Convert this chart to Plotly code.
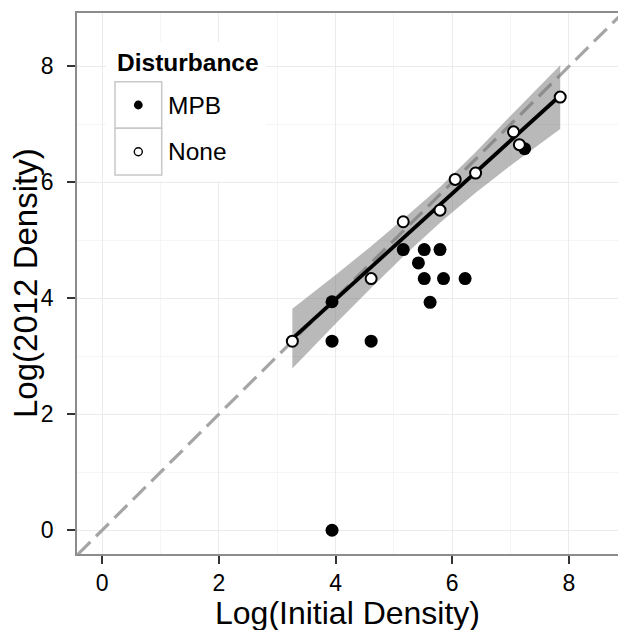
import numpy as np
import plotly.graph_objects as go

# ---- data (log scale values) ----
mpb_x = [3.94, 3.94, 4.61, 5.16, 5.52, 5.79, 5.42, 5.52, 5.85, 6.22, 5.62, 3.94, 7.24]
mpb_y = [3.94, 3.26, 3.26, 4.84, 4.84, 4.84, 4.61, 4.34, 4.34, 4.34, 3.93, 0.00, 6.58]

none_x = [3.26, 4.61, 5.16, 5.79, 6.05, 6.40, 7.05, 7.15, 7.85]
none_y = [3.26, 4.34, 5.32, 5.52, 6.05, 6.16, 6.87, 6.65, 7.47]

# confidence band of the fitted line
ribbon_x = [3.26, 4.00, 4.60, 5.20, 5.80, 6.40, 7.00, 7.85]
ribbon_hi = [3.82, 4.40, 4.89, 5.40, 5.93, 6.52, 7.15, 8.02]
ribbon_lo = [2.79, 3.56, 4.17, 4.76, 5.31, 5.82, 6.29, 6.92]

# 1:1 reference line
abline_intercept = 0.0
abline_slope = 1.0

x_ticks = [0, 2, 4, 6, 8]
y_ticks = [0, 2, 4, 6, 8]
x_title = "Log(Initial Density)"
y_title = "Log(2012 Density)"
legend_title = "Disturbance"
groups = ["MPB", "None"]

FONT = "Liberation Sans, Arial, sans-serif"

# ---- derived ----
nx = np.array(none_x)
ny = np.array(none_y)
slope, intercept = np.polyfit(nx, ny, 1)
fit_x = np.array([nx.min(), nx.max()])
fit_y = intercept + slope * fit_x

ab_x = np.array([-2.0, 12.0])
ab_y = abline_intercept + abline_slope * ab_x

fig = go.Figure()

fig.add_trace(go.Scatter(
    x=ab_x, y=ab_y, mode="lines",
    line=dict(color="rgb(165,165,165)", width=3.2, dash="18px,8px"),
    hoverinfo="skip", showlegend=False))

fig.add_trace(go.Scatter(
    x=ribbon_x + ribbon_x[::-1], y=ribbon_hi + ribbon_lo[::-1],
    fill="toself", fillcolor="rgba(115,115,115,0.5)", line=dict(width=0),
    mode="lines", hoverinfo="skip", showlegend=False))

fig.add_trace(go.Scatter(
    x=fit_x, y=fit_y, mode="lines",
    line=dict(color="black", width=3.8), showlegend=False))

fig.add_trace(go.Scatter(
    x=mpb_x, y=mpb_y, mode="markers", name=groups[0],
    marker=dict(size=13, color="black", line=dict(width=0)), showlegend=False))

fig.add_trace(go.Scatter(
    x=none_x, y=none_y, mode="markers", name=groups[1],
    marker=dict(size=11, color="white", line=dict(width=2, color="black")),
    showlegend=False))

W, H = 618, 630
ML, MR, MT, MB = 77, 0, 13, 76
PW = W - ML - MR
PH = H - MT - MB


def px(xp):
    return (xp - ML) / PW


def py(yp):
    return (H - MB - yp) / PH


shapes = []
# legend background
shapes.append(dict(type="rect", xref="paper", yref="paper",
                   x0=px(106), x1=px(266), y0=py(181), y1=py(42),
                   fillcolor="white", line=dict(width=0), layer="above"))
# legend key boxes
for top, bot in [(81.7, 128.3), (128.3, 175.0)]:
    shapes.append(dict(type="rect", xref="paper", yref="paper",
                       x0=px(115), x1=px(161.7), y0=py(bot), y1=py(top),
                       fillcolor="white", line=dict(color="#c8c8c8", width=1.5),
                       layer="above"))
# legend symbols
shapes.append(dict(type="circle", xref="paper", yref="paper",
                   xsizemode="pixel", ysizemode="pixel",
                   xanchor=px(138.3), yanchor=py(105),
                   x0=-4.4, x1=4.4, y0=-4.4, y1=4.4,
                   fillcolor="black", line=dict(width=0), layer="above"))
shapes.append(dict(type="circle", xref="paper", yref="paper",
                   xsizemode="pixel", ysizemode="pixel",
                   xanchor=px(138.3), yanchor=py(151.7),
                   x0=-4.0, x1=4.0, y0=-4.0, y1=4.0,
                   fillcolor="white", line=dict(width=1.4, color="black"),
                   layer="above"))

annotations = [
    dict(text="<b>" + legend_title + "</b>", xref="paper", yref="paper",
         x=px(115), y=py(63), xanchor="left", yanchor="middle",
         showarrow=False, font=dict(family=FONT, size=24.5, color="black")),
    dict(text=groups[0], xref="paper", yref="paper",
         x=px(166), y=py(105), xanchor="left", yanchor="middle",
         showarrow=False, font=dict(family=FONT, size=24.5, color="black")),
    dict(text=groups[1], xref="paper", yref="paper",
         x=px(166), y=py(151.7), xanchor="left", yanchor="middle",
         showarrow=False, font=dict(family=FONT, size=24.5, color="black")),
    dict(text=x_title, xref="paper", yref="paper",
         x=0.5, y=py(612.5), xanchor="center", yanchor="middle",
         showarrow=False, font=dict(family=FONT, size=32, color="black")),
    dict(text=y_title, xref="paper", yref="paper", textangle=-90,
         x=px(25.5), y=py(283.5), xanchor="center", yanchor="middle",
         showarrow=False, font=dict(family=FONT, size=33, color="black")),
]

axis_common = dict(
    ticks="outside", ticklen=8, tickwidth=2, tickcolor="#333333",
    showline=True, linecolor="#8c8c8c", linewidth=1.5,
    showgrid=True, gridcolor="#ebebeb", gridwidth=1,
    zeroline=False,
    tickfont=dict(family=FONT, size=23, color="black"),
    minor=dict(dtick=1, showgrid=True, gridcolor="#f5f5f5", gridwidth=1,
               ticks=""),
)

fig.update_layout(
    width=W, height=H,
    margin=dict(l=ML, r=MR, t=MT, b=MB),
    paper_bgcolor="white", plot_bgcolor="white",
    showlegend=False,
    xaxis=dict(range=[-0.43, 8.84], tickvals=x_ticks, mirror=True,
               ticklabelstandoff=0, **axis_common),
    yaxis=dict(range=[-0.41, 8.92], tickvals=y_ticks, mirror=False,
               ticklabelstandoff=9, **axis_common),
    shapes=shapes,
    annotations=annotations,
)

fig.write_html("out.html")
